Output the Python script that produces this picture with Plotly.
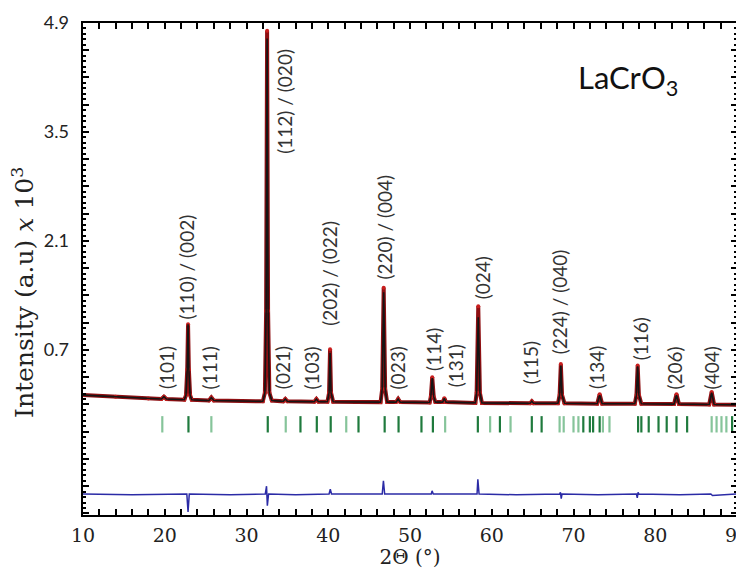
import plotly.graph_objects as go

# ---------------- data ----------------
# calculated profile (2theta, intensity x10^3)
calc_tt = [10.0, 14.0, 18.0, 19.6, 19.9, 20.2, 22.4, 22.6, 22.75, 22.85, 22.95, 23.1, 23.3,
           25.4, 25.7, 26.0, 32.0, 32.25, 32.4, 32.52, 32.64, 32.8, 33.1, 34.5, 34.75, 35.0,
           38.3, 38.55, 38.8, 39.9, 40.1, 40.22, 40.34, 40.6, 46.4, 46.6, 46.78, 46.96, 47.2,
           48.3, 48.55, 48.8, 52.4, 52.55, 52.72, 52.9, 53.1, 54.0, 54.2, 54.4,
           58.0, 58.15, 58.35, 58.55, 58.8, 64.7, 64.9, 65.1, 68.1, 68.3, 68.45, 68.6, 68.9,
           72.9, 73.2, 73.5, 77.5, 77.7, 77.85, 78.0, 78.3, 82.3, 82.6, 82.9,
           86.6, 86.9, 87.2, 90.0]
calc_int = [0.12, 0.10, 0.075, 0.07, 0.10, 0.07, 0.06, 0.12, 0.45, 1.03, 0.45, 0.12, 0.06,
            0.05, 0.09, 0.05, 0.04, 0.15, 1.20, 4.70, 1.20, 0.15, 0.05, 0.04, 0.07, 0.04,
            0.035, 0.07, 0.035, 0.035, 0.15, 0.66, 0.15, 0.035, 0.03, 0.20, 1.44, 0.20, 0.03,
            0.03, 0.07, 0.03, 0.025, 0.10, 0.34, 0.10, 0.03, 0.03, 0.08, 0.03,
            0.02, 0.15, 1.12, 0.15, 0.02, 0.015, 0.04, 0.015, 0.015, 0.12, 0.50, 0.12, 0.015,
            0.01, 0.12, 0.01, 0.01, 0.12, 0.49, 0.12, 0.01, 0.005, 0.12, 0.005,
            0.0, 0.15, 0.0, -0.005]
# observed points
obs_tt = calc_tt
obs_int = [0.12, 0.10, 0.075, 0.07, 0.10, 0.07, 0.06, 0.12, 0.45, 1.03, 0.45, 0.12, 0.06,
           0.05, 0.09, 0.05, 0.04, 0.15, 1.20, 4.80, 1.20, 0.15, 0.05, 0.04, 0.07, 0.04,
           0.035, 0.07, 0.035, 0.035, 0.15, 0.71, 0.15, 0.035, 0.03, 0.20, 1.50, 0.20, 0.03,
           0.03, 0.07, 0.03, 0.025, 0.10, 0.35, 0.10, 0.03, 0.03, 0.08, 0.03,
           0.02, 0.15, 1.26, 0.15, 0.02, 0.015, 0.04, 0.015, 0.015, 0.12, 0.52, 0.12, 0.015,
           0.01, 0.13, 0.01, 0.01, 0.12, 0.50, 0.12, 0.01, 0.005, 0.13, 0.005,
           0.0, 0.16, 0.0, -0.005]
# difference curve (offset)
diff_tt = [10.0, 16.0, 22.7, 22.85, 23.0, 28.0, 32.3, 32.45, 32.55, 32.7, 36.0, 40.1, 40.25, 40.4,
           46.6, 46.75, 46.9, 52.6, 52.7, 52.85, 58.2, 58.3, 58.45, 63.0, 68.3, 68.4, 68.5, 68.6,
           73.0, 77.7, 77.8, 77.9, 78.0, 83.0, 86.8, 87.0, 90.0]
diff_int = [-1.15, -1.16, -1.15, -1.38, -1.15, -1.16, -1.15, -1.05, -1.30, -1.15, -1.16, -1.15, -1.09, -1.15,
            -1.15, -0.98, -1.15, -1.15, -1.11, -1.15, -1.15, -0.96, -1.15, -1.16, -1.15, -1.13, -1.21, -1.15,
            -1.16, -1.15, -1.20, -1.13, -1.15, -1.16, -1.15, -1.17, -1.15]
# Bragg reflection positions
bragg_strong = [22.9, 32.6, 36.6, 38.6, 40.3, 43.7, 46.9, 48.6, 51.4, 52.8, 58.3, 61.0, 64.9, 66.1,
                71.2, 72.0, 72.4, 73.2, 77.9, 78.3, 79.2, 80.4, 81.4, 82.6, 83.9, 89.4]
bragg_weak = [19.7, 25.7, 34.8, 42.2, 54.3, 59.8, 62.3, 68.3, 68.8, 70.0, 70.6, 73.6, 74.4,
              86.9, 87.5, 88.1, 88.7]
# peak labels
hkl_text = ["(101)", "(110) / (002)", "(111)", "(112) / (020)", "(021)", "(103)", "(202) / (022)",
            "(220) / (004)", "(023)", "(114)", "(131)", "(024)", "(115)", "(224) / (040)",
            "(134)", "(116)", "(206)", "(404)"]
hkl_x = [20.2, 22.7, 25.5, 34.7, 34.4, 38.0, 40.2, 46.9, 48.5, 52.8, 55.5, 58.8, 64.7, 68.3,
         72.9, 78.3, 82.4, 86.9]
hkl_y = [0.17, 1.07, 0.17, 3.20, 0.17, 0.17, 0.99, 1.58, 0.17, 0.41, 0.20, 1.33, 0.23, 0.62,
         0.17, 0.54, 0.17, 0.17]
y_ticks = [0.7, 2.1, 3.5, 4.9]

# ---------------- figure ----------------
TICK_TOP, TICK_BOT = -0.15, -0.36
Y_RANGE = [-1.42, 4.9]

def segs(pos):
    xs, ys = [], []
    for p in pos:
        xs += [p, p, None]
        ys += [TICK_TOP, TICK_BOT, None]
    return xs, ys

fig = go.Figure()
fig.add_trace(go.Scatter(x=obs_tt, y=obs_int, mode="lines+markers",
                         line=dict(color="#8e0f12", width=4),
                         marker=dict(color="#c81e1e", size=4), showlegend=False))
fig.add_trace(go.Scatter(x=calc_tt, y=calc_int, mode="lines",
                         line=dict(color="#151515", width=1.6), showlegend=False))
wx, wy = segs(bragg_weak)
fig.add_trace(go.Scatter(x=wx, y=wy, mode="lines", line=dict(color="#86c49a", width=2.2),
                         showlegend=False))
sx, sy = segs(bragg_strong)
fig.add_trace(go.Scatter(x=sx, y=sy, mode="lines", line=dict(color="#1f7a3d", width=2.2),
                         showlegend=False))
fig.add_trace(go.Scatter(x=diff_tt, y=diff_int, mode="lines",
                         line=dict(color="#2b2ba6", width=1.5), showlegend=False))
# invisible trace to carry the labelled y axis
fig.add_trace(go.Scatter(x=[50], y=[0], yaxis="y2", mode="markers",
                         marker=dict(opacity=0), hoverinfo="skip", showlegend=False))

for t, x, y in zip(hkl_text, hkl_x, hkl_y):
    fig.add_annotation(x=x, y=y, text=t, textangle=-90, showarrow=False,
                       xanchor="center", yanchor="bottom",
                       font=dict(family="Lato", size=19, color="#333333"))

fig.add_annotation(x=76.7, y=4.17, text="LaCrO<sub>3</sub>", showarrow=False,
                   xanchor="center", yanchor="middle",
                   font=dict(family="Lato", size=31, color="#111111"))

fig.add_annotation(xref="paper", yref="paper", x=-0.092, y=0.453,
                   text="Intensity (a.u) <i>x</i> 10<sup>3</sup>", textangle=-90,
                   showarrow=False, xanchor="center", yanchor="middle",
                   font=dict(family="DejaVu Serif", size=25, color="#222222"))

# the page body adds an 8px offset, so the figure is sized to the remaining area
fig.update_layout(
    width=736, height=561, margin=dict(l=75, r=7, t=15, b=54, autoexpand=False),
    plot_bgcolor="white", paper_bgcolor="white",
    xaxis=dict(range=[10, 90], tickmode="linear", tick0=10, dtick=10, automargin=False,
               ticks="inside", ticklen=6, tickwidth=1.5, tickcolor="black",
               minor=dict(dtick=2, tick0=10, ticks="inside", ticklen=3, tickcolor="black"),
               showline=True, linecolor="black", linewidth=1.5, mirror="allticks",
               showgrid=False, zeroline=False, ticklabelstandoff=2,
               ticklabeloverflow="allow",
               tickfont=dict(family="DejaVu Serif", size=19, color="#222222"),
               title=dict(text="2Θ (°)", standoff=5,
                          font=dict(family="DejaVu Serif", size=20, color="#222222"))),
    yaxis=dict(range=Y_RANGE, tickmode="linear", tick0=0, dtick=0.35, automargin=False,
               ticks="inside", ticklen=6, tickwidth=1.5, tickcolor="black",
               minor=dict(dtick=0.07, tick0=0, ticks="inside", ticklen=3, tickcolor="black"),
               showline=True, linecolor="black", linewidth=1.5, mirror="allticks",
               showgrid=False, zeroline=False, showticklabels=False),
    yaxis2=dict(range=Y_RANGE, overlaying="y", side="left", anchor="free", position=0,
                tickmode="array", automargin=False,
                tickvals=y_ticks, ticktext=[f"{v:.1f}" for v in y_ticks], ticks="",
                showline=False, showgrid=False, zeroline=False, ticklabelstandoff=14,
                ticklabeloverflow="allow",
                tickfont=dict(family="Lato", size=18, color="#222222")),
)
fig.write_html("out.html")
